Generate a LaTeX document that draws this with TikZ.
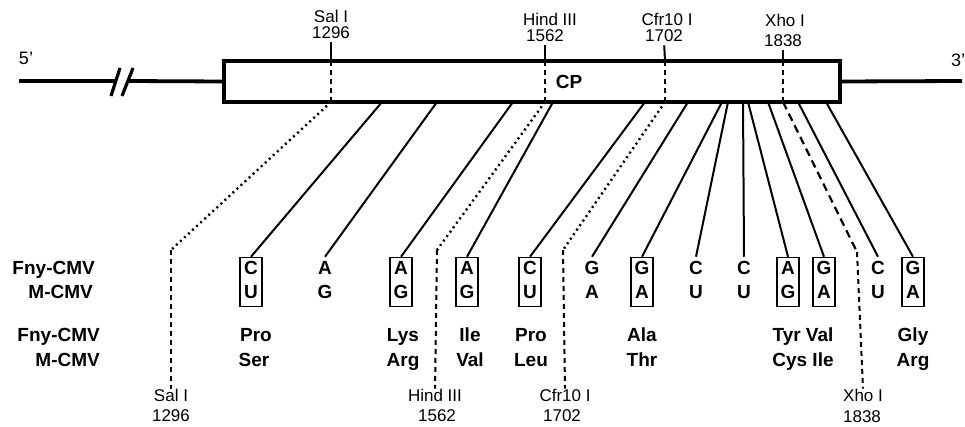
\documentclass[tikz,border=0pt]{standalone}
\usepackage{fontspec}
\setmainfont{Liberation Sans}
\begin{document}
\begin{tikzpicture}[x=1pt,y=-1pt,
  lbl/.style={font=\fontsize{19}{22}\selectfont\bfseries, inner sep=0pt, text height=13.5pt, text depth=0pt},
  sml/.style={font=\fontsize{17}{19}\selectfont, inner sep=0pt, text height=12.2pt, text depth=0pt},
  nucbox/.style={minimum width=22pt, minimum height=49pt, inner sep=0pt, line width=1.5pt},
  boxed/.style={nucbox, draw},
  conn/.style={line width=2pt},
  tick/.style={line width=2pt, shorten <=4pt},
  dotl/.style={line width=2.4pt, dash pattern=on 2pt off 3.5pt},
  dashl/.style={line width=2pt, dash pattern=on 5pt off 4pt},
  longdash/.style={line width=2.2pt, dash pattern=on 8pt off 5pt},
  mainline/.style={line width=3.8pt},
  slash/.style={line width=3.2pt}
]
\useasboundingbox (0,0) rectangle (965,427);

% genome line and CP box
\node[draw, line width=3.8pt, minimum width=616pt, minimum height=41pt, inner sep=0pt] (rect) at (532,81.5) {};
\node[lbl] (cp) at (569,82) {CP};
\coordinate (l5) at (19,81);
\coordinate (bk1) at (116,81);
\coordinate (bk2) at (128,81);
\coordinate (r3) at (962,81);
\draw[mainline] (l5) -- (bk1);
\draw[mainline] (bk2) -- (rect.west);
\draw[mainline] (rect.east) -- (r3);
\coordinate (s1a) at (111,96); \coordinate (s1b) at (120,68);
\coordinate (s2a) at (122,96); \coordinate (s2b) at (133,68);
\draw[slash] (s1a) -- (s1b);
\draw[slash] (s2a) -- (s2b);
\node[sml, font=\fontsize{18}{20}\selectfont] (p5) at (26,58) {5'};
\node[sml, font=\fontsize{18}{20}\selectfont] (p3) at (958,60) {3'};

% nucleotide columns
\foreach \i/\x/\t/\f/\m/\b in {
  1/251/382/C/U/boxed, 2/325/437/A/G/nucbox, 3/401/513/A/G/boxed,
  4/467/553/A/G/boxed, 5/530/645/C/U/boxed, 6/592/688/G/A/nucbox,
  7/642/722/G/A/boxed, 8/696/728/C/U/nucbox, 9/744/743/C/U/nucbox,
  10/788/748/A/G/boxed, 11/824/768/G/A/boxed, 12/878/798/C/U/nucbox,
  13/913/826/G/A/boxed} {
  \node[\b] (b\i) at (\x,282) {};
  \node[lbl] (f\i) at (\x,268) {\f};
  \node[lbl] (m\i) at (\x,292) {\m};
  \coordinate (t\i) at (\t,102);
  \draw[conn] (t\i) -- (b\i.north);
}

% row labels
\node[lbl, anchor=east] (fnyA) at (95,268) {Fny-CMV};
\node[lbl, anchor=east] (mA) at (93,292) {M-CMV};
\node[lbl, anchor=east] (fnyB) at (100,335) {Fny-CMV};
\node[lbl, anchor=east] (mB) at (100,360) {M-CMV};

% amino acids
\node[lbl] (aa1) at (256,335) {Pro};
\node[lbl] (ab1) at (254,360) {Ser};
\node[lbl] (aa2) at (403,335) {Lys};
\node[lbl] (ab2) at (403,360) {Arg};
\node[lbl] (aa3) at (470,335) {Ile};
\node[lbl] (ab3) at (470,360) {Val};
\node[lbl] (aa4) at (531,335) {Pro};
\node[lbl] (ab4) at (531,360) {Leu};
\node[lbl] (aa5) at (642,335) {Ala};
\node[lbl] (ab5) at (642,360) {Thr};
\node[lbl] (aa6) at (803,335) {Tyr Val};
\node[lbl] (ab6) at (803,360) {Cys Ile};
\node[lbl] (aa7) at (913,335) {Gly};
\node[lbl] (ab7) at (913,360) {Arg};

% restriction sites
% Sal I
\node[sml] (salA) at (331,16) {Sal I};
\node[sml] (salN) at (331,32) {1296};
\coordinate (salR1) at (331,61);
\coordinate (salR2) at (331,102);
\coordinate (salK) at (171,250);
\node[sml] (salBA) at (171,395) {Sal I};
\node[sml] (salBN) at (171,415) {1296};
\draw[tick] (salN.south) -- (salR1);
\draw[dashl] (salR1) -- (salR2);
\draw[dotl] (salR2) -- (salK);
\draw[dashl] (salK) -- (salBA.north);

% Hind III
\node[sml] (hinA) at (550,19) {Hind III};
\node[sml] (hinN) at (545,35) {1562};
\coordinate (hinR1) at (545,61);
\coordinate (hinR2) at (545,102);
\coordinate (hinK) at (437,250);
\node[sml] (hinBA) at (435,395) {Hind III};
\node[sml] (hinBN) at (437,415) {1562};
\draw[tick] (hinN.south) -- (hinR1);
\draw[dashl] (hinR1) -- (hinR2);
\draw[dotl] (hinR2) -- (hinK);
\draw[dashl] (hinK) -- (hinBA.north);

% Cfr10 I
\node[sml] (cfrA) at (667,19) {Cfr10 I};
\node[sml] (cfrN) at (664,35) {1702};
\coordinate (cfrR1) at (665,61);
\coordinate (cfrR2) at (665,102);
\coordinate (cfrK) at (563,250);
\node[sml] (cfrBA) at (565,395) {Cfr10 I};
\node[sml] (cfrBN) at (562,415) {1702};
\draw[tick] (cfrN.south) -- (cfrR1);
\draw[dashl] (cfrR1) -- (cfrR2);
\draw[dotl] (cfrR2) -- (cfrK);
\draw[dashl] (cfrK) -- (cfrBA.north);

% Xho I
\node[sml] (xhoA) at (785,20) {Xho I};
\node[sml] (xhoN) at (783,40) {1838};
\coordinate (xhoR1) at (783,61);
\coordinate (xhoR2) at (783,102);
\coordinate (xhoK) at (857,252);
\node[sml] (xhoBA) at (863,395) {Xho I};
\node[sml] (xhoBN) at (862,416) {1838};
\draw[tick] (xhoN.south) -- (xhoR1);
\draw[dashl] (xhoR1) -- (xhoR2);
\draw[longdash] (xhoR2) -- (xhoK);
\draw[dashl] (xhoK) -- (xhoBA.north);
\end{tikzpicture}
\end{document}
